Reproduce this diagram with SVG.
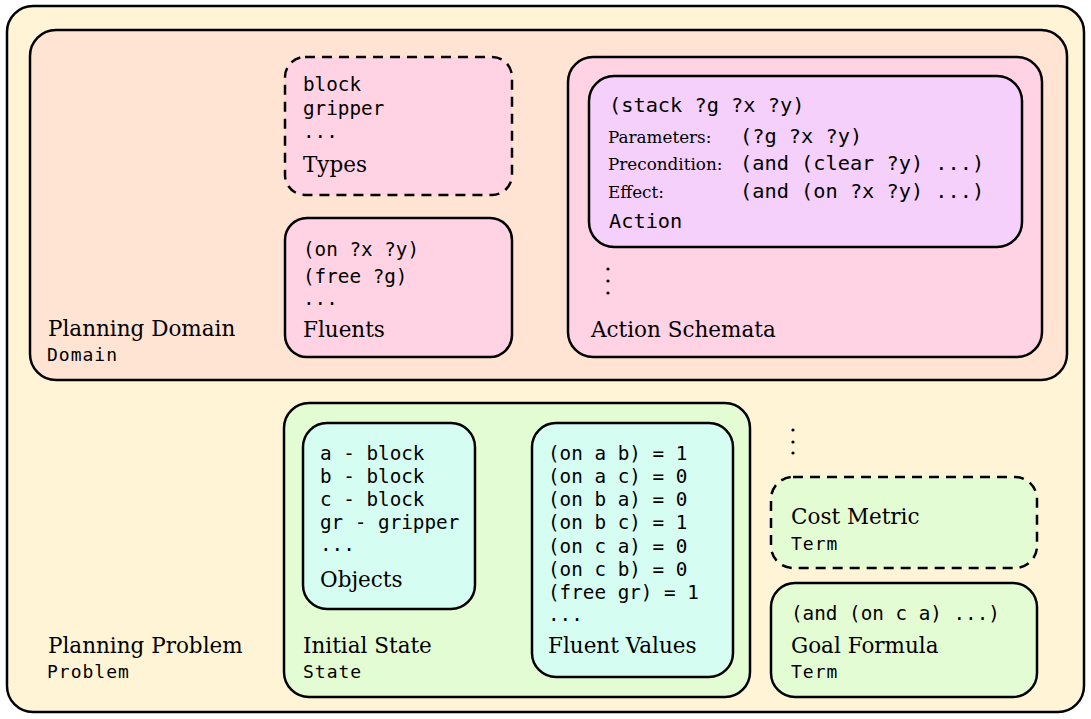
<svg xmlns="http://www.w3.org/2000/svg" width="1091" height="719" viewBox="0 0 1091 719">
<style>
.box{stroke:#000;stroke-width:2.5}
.dash{stroke-dasharray:10 7}
.outer{fill:#FFF5D6}
.dom{fill:#FFE4D4}
.pink{fill:#FFD3E3}
.lilac{fill:#F5D0FA}
.green{fill:#E4FCD3}
.cyan{fill:#D5FDF1}
.ser{font-family:"DejaVu Serif","Liberation Serif",serif;font-size:21.5px;fill:#000}
.sm{font-family:"DejaVu Serif","Liberation Serif",serif;font-size:16.8px;fill:#000}
.mono{font-family:"DejaVu Sans Mono","Liberation Mono",monospace;font-size:19.3px;fill:#000}
.am{font-family:"DejaVu Sans Mono","Liberation Mono",monospace;font-size:20.3px;fill:#000}
.tl{font-family:"DejaVu Sans Mono","Liberation Mono",monospace;font-size:18px;letter-spacing:1px;fill:#000}
.dot{fill:#000}
</style>
<g id="outer">
<rect class="box outer" x="7" y="6" width="1077" height="706" rx="26"/>
</g>
<g id="domain">
<rect class="box dom" x="30" y="30" width="1037" height="350" rx="26"/>
<text class="ser" x="48" y="336">Planning Domain</text>
<text class="tl" x="47" y="361">Domain</text>
</g>
<g id="types">
<rect class="box pink dash" x="285" y="57" width="227" height="138" rx="20"/>
<text class="mono" x="303" y="91">block</text>
<text class="mono" x="303" y="115">gripper</text>
<text class="mono" x="303" y="138">...</text>
<text class="ser" x="303" y="172">Types</text>
</g>
<g id="fluents">
<rect class="box pink" x="285" y="218" width="227" height="139" rx="22"/>
<text class="mono" x="303" y="256">(on ?x ?y)</text>
<text class="mono" x="303" y="283">(free ?g)</text>
<text class="mono" x="303" y="305">...</text>
<text class="ser" x="303" y="337">Fluents</text>
</g>
<g id="schemata">
<rect class="box pink" x="568" y="57" width="474" height="300" rx="25"/>
<circle class="dot" cx="608" cy="269" r="1.6"/>
<circle class="dot" cx="608" cy="281" r="1.6"/>
<circle class="dot" cx="608" cy="293" r="1.6"/>
<text class="ser" x="591" y="337">Action Schemata</text>
</g>
<g id="action">
<rect class="box lilac" x="589" y="76" width="433" height="171" rx="25"/>
<text class="am" x="609" y="112">(stack ?g ?x ?y)</text>
<text class="sm" x="608" y="143">Parameters:</text>
<text class="am" x="740" y="143">(?g ?x ?y)</text>
<text class="sm" x="608" y="170">Precondition:</text>
<text class="am" x="740" y="170">(and (clear ?y) ...)</text>
<text class="sm" x="608" y="198">Effect:</text>
<text class="am" x="740" y="198">(and (on ?x ?y) ...)</text>
<text class="am" x="609" y="228">Action</text>
</g>
<g id="problem">
<text class="ser" x="48" y="653">Planning Problem</text>
<text class="tl" x="47" y="678">Problem</text>
</g>
<g id="initial-state">
<rect class="box green" x="284" y="403" width="466" height="294" rx="25"/>
<text class="ser" x="303" y="653">Initial State</text>
<text class="tl" x="303" y="678">State</text>
</g>
<g id="objects">
<rect class="box cyan" x="303" y="423" width="172" height="186" rx="24"/>
<text class="mono" x="320" y="460">a - block</text>
<text class="mono" x="320" y="483">b - block</text>
<text class="mono" x="320" y="506">c - block</text>
<text class="mono" x="320" y="529">gr - gripper</text>
<text class="mono" x="320" y="551">...</text>
<text class="ser" x="320" y="587">Objects</text>
</g>
<g id="fluent-values">
<rect class="box cyan" x="532" y="423" width="201" height="254" rx="24"/>
<text class="mono" x="548" y="460">(on a b) = 1</text>
<text class="mono" x="548" y="483">(on a c) = 0</text>
<text class="mono" x="548" y="506">(on b a) = 0</text>
<text class="mono" x="548" y="529">(on b c) = 1</text>
<text class="mono" x="548" y="553">(on c a) = 0</text>
<text class="mono" x="548" y="576">(on c b) = 0</text>
<text class="mono" x="548" y="599">(free gr) = 1</text>
<text class="mono" x="548" y="621">...</text>
<text class="ser" x="548" y="653">Fluent Values</text>
</g>
<g id="more-dots">
<circle class="dot" cx="793" cy="430" r="1.6"/>
<circle class="dot" cx="793" cy="442" r="1.6"/>
<circle class="dot" cx="793" cy="453" r="1.6"/>
</g>
<g id="cost-metric">
<rect class="box green dash" x="771" y="477" width="266" height="91" rx="22"/>
<text class="ser" x="791" y="524">Cost Metric</text>
<text class="tl" x="791" y="550">Term</text>
</g>
<g id="goal">
<rect class="box green" x="771" y="583" width="266" height="114" rx="24"/>
<text class="mono" x="791" y="620">(and (on c a) ...)</text>
<text class="ser" x="791" y="653">Goal Formula</text>
<text class="tl" x="791" y="678">Term</text>
</g>
<g id="connectors"></g>
</svg>
